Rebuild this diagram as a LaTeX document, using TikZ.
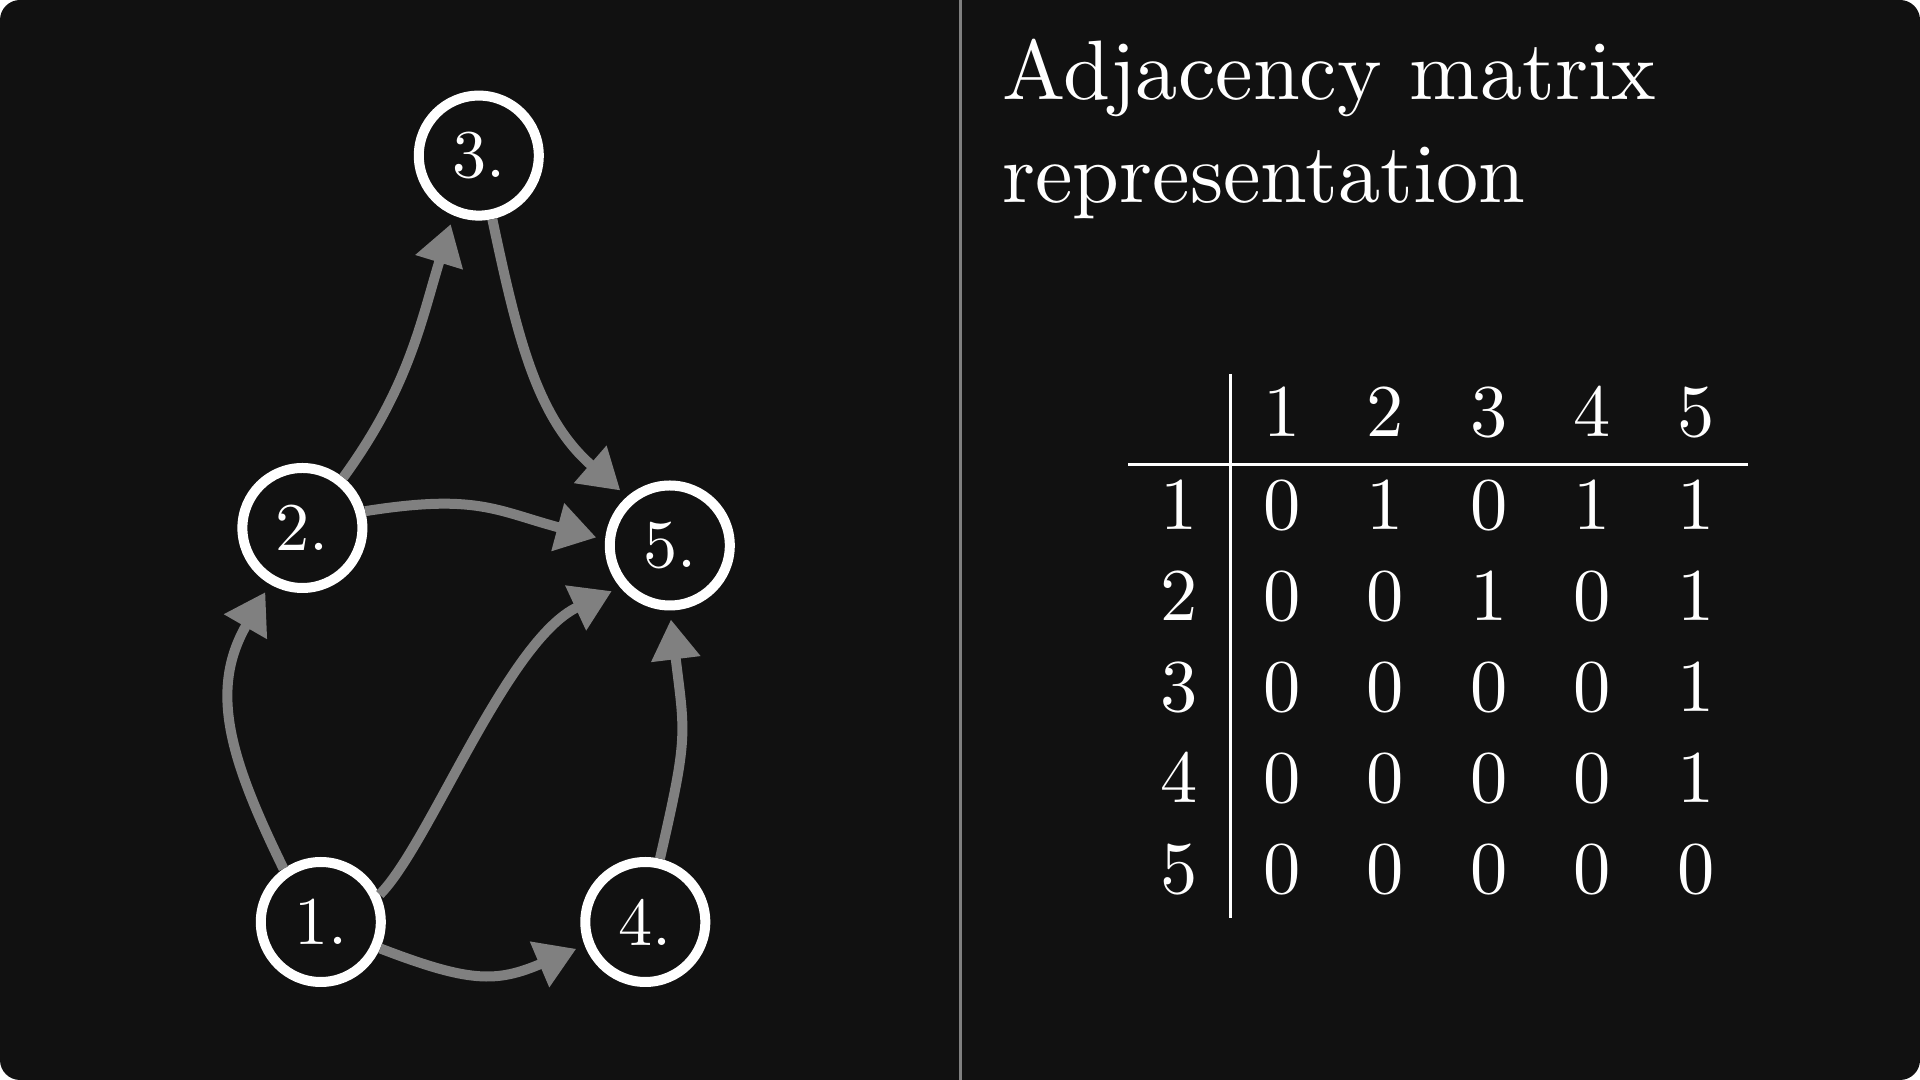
\documentclass[tikz,border=0pt]{standalone}
\usepackage{graphicx}
\usetikzlibrary{arrows.meta,positioning}
\definecolor{panel}{HTML}{111111}
\definecolor{ink}{HTML}{FFFFFF}
\definecolor{edgegray}{HTML}{808080}
\definecolor{rule}{HTML}{808080}
\newcommand{\vlab}[1]{\scalebox{1.943}{#1}}
\newcommand{\cellnum}[1]{\scalebox{2.12}{#1}}
\newcommand{\headtext}[1]{\scalebox{2.40}{#1}}
\tikzset{
  vertex/.style={circle,draw=ink,fill=panel,line width=0.1cm,minimum size=1.2cm,inner sep=0pt,text=ink,font=\fontsize{10}{12}\selectfont},
  link/.style={-{Triangle[length=0.40cm,width=0.47cm]},line width=0.1cm,draw=edgegray,shorten >=0.09cm},
  cell/.style={anchor=base,inner sep=0pt,text=ink,font=\fontsize{10}{12}\selectfont},
  heading/.style={anchor=base west,inner sep=0pt,text=ink,font=\fontsize{10}{12}\selectfont},
  tabrule/.style={draw=ink,line width=0.03cm}
}
\begin{document}
\begin{tikzpicture}[x=1cm,y=1cm]
  \useasboundingbox (0,0) rectangle (19.2,10.8);
  \fill[white] (0,0) rectangle (19.2,10.8);
  \fill[panel,rounded corners=0.2cm] (0,0) rectangle (19.2,10.8);
  \draw[rule,line width=0.03cm] (9.6,0) -- (9.6,10.8);

  % graph
  \node[vertex] (n1) at (3.208,1.580) {\vlab{1.}};
  \node[vertex] (n2) at (3.024,5.520) {\vlab{2.}};
  \node[vertex] (n3) at (4.788,9.244) {\vlab{3.}};
  \node[vertex] (n4) at (6.453,1.580) {\vlab{4.}};
  \node[vertex] (n5) at (6.698,5.345) {\vlab{5.}};

  \draw[link] (n1.125) to[out=116,in=240,looseness=1.1] (n2);
  \draw[link] (n2.51) to[out=54,in=253] (n3.247);
  \draw[link] (n3.282) to[out=282,in=139] (n5.131);
  \draw[link] (n2.15) to[out=9,in=165,looseness=1.2] (n5.175);
  \draw[link] (n1.25) .. controls +(45:0.70) and +(205:1.25) .. (n5.220);
  \draw[link] (n1.-24) to[out=-21,in=203,looseness=1.2] (n4.201);
  \draw[link] (n4.77) to[out=77,in=277,looseness=1.3] (n5.270);

  % title
  \node[heading] (titleA) at (10.016,9.801) {\headtext{Adjacency matrix}};
  \node[heading] (titleB) at ([yshift=-1.03cm]titleA.base west) {\headtext{representation}};

  % matrix
  \foreach \j in {1,...,5} {
    \pgfmathsetmacro{\x}{12.82+1.035*(\j-1)}
    \node[cell] (hd\j) at (\x,6.43) {\cellnum{\j}};
  }
  \foreach \i/\row in {1/{0,1,0,1,1},2/{0,0,1,0,1},3/{0,0,0,0,1},4/{0,0,0,0,1},5/{0,0,0,0,0}} {
    \pgfmathsetmacro{\y}{5.50-0.91*(\i-1)}
    \node[cell] (rw\i) at (11.79,\y) {\cellnum{\i}};
    \foreach \v [count=\j] in \row {
      \pgfmathsetmacro{\x}{12.82+1.035*(\j-1)}
      \node[cell] (c\i\j) at (\x,\y) {\cellnum{\v}};
    }
  }
  \draw[tabrule] (12.307,7.06) -- (12.307,1.62);
  \draw[tabrule] (11.28,6.15) -- (17.48,6.15);
\end{tikzpicture}
\end{document}
